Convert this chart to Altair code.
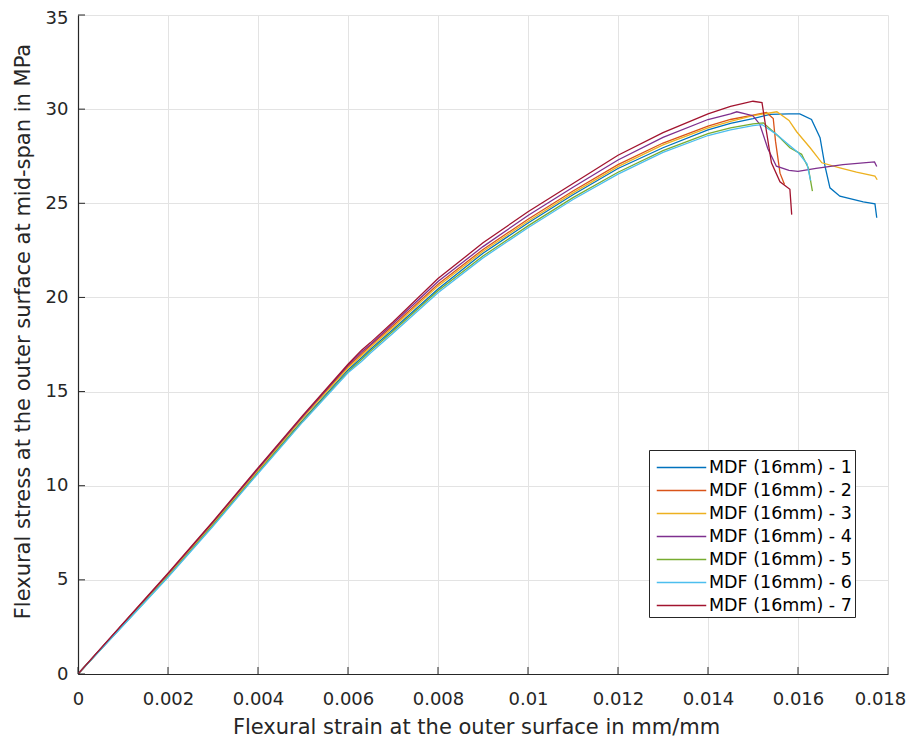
import altair as alt
import pandas as pd

series_names = [f"MDF (16mm) - {i}" for i in range(1, 8)]
series_colors = ["#0072BD", "#D95319", "#EDB120", "#7E2F8E", "#77AC30", "#4DBEEE", "#A2142F"]

x_ticks = [0, 0.002, 0.004, 0.006, 0.008, 0.01, 0.012, 0.014, 0.016, 0.018]
y_ticks = [0, 5, 10, 15, 20, 25, 30, 35]

# common strain points of the rising part
rise_strain = [0, 0.001, 0.002, 0.003, 0.004, 0.005, 0.006, 0.0063, 0.0065,
               0.007, 0.008, 0.009, 0.010, 0.011, 0.012, 0.013, 0.014]

# series 1
s1_rise = [0, 2.6, 5.2, 7.95, 10.75, 13.5, 16.15, 16.8, 17.25, 18.3, 20.45, 22.35, 23.95, 25.45, 26.85, 27.95, 28.9]
s1_tail_x = [0.0145, 0.0150, 0.01538, 0.0158, 0.01604, 0.0163, 0.01649, 0.0166, 0.01671, 0.01693, 0.01745, 0.01771, 0.01775]
s1_tail_y = [29.25, 29.5, 29.72, 29.75, 29.75, 29.45, 28.48, 26.97, 25.82, 25.38, 25.08, 24.97, 24.23]
# series 2
s2_rise = [0, 2.64, 5.28, 8.03, 10.85, 13.65, 16.33, 17.0, 17.45, 18.5, 20.7, 22.55, 24.15, 25.65, 27.05, 28.2, 29.1]
s2_tail_x = [0.0145, 0.0150, 0.0153, 0.01545, 0.0155, 0.0156, 0.0157]
s2_tail_y = [29.45, 29.68, 29.82, 29.5, 28.3, 26.6, 26.0]
# series 3
s3_rise = [0, 2.62, 5.25, 8.0, 10.8, 13.6, 16.25, 16.9, 17.35, 18.4, 20.6, 22.45, 24.05, 25.55, 26.95, 28.1, 29.0]
s3_tail_x = [0.0145, 0.0150, 0.01553, 0.0158, 0.01597, 0.01627, 0.01653, 0.01693, 0.0173, 0.01771, 0.01776]
s3_tail_y = [29.35, 29.65, 29.86, 29.4, 28.8, 27.95, 27.15, 26.88, 26.65, 26.44, 26.25]
# series 4
s4_rise = [0, 2.66, 5.32, 8.07, 10.9, 13.7, 16.4, 17.1, 17.5, 18.6, 20.85, 22.7, 24.35, 25.85, 27.3, 28.5, 29.45]
s4_tail_x = [0.0145, 0.01464, 0.0150, 0.01515, 0.01533, 0.01552, 0.0158, 0.0160, 0.0164, 0.0170, 0.0177, 0.01775]
s4_tail_y = [29.75, 29.86, 29.65, 29.2, 27.9, 26.97, 26.75, 26.7, 26.85, 27.05, 27.2, 26.95]
# series 5
s5_rise = [0, 2.58, 5.17, 7.9, 10.7, 13.45, 16.05, 16.7, 17.15, 18.2, 20.35, 22.2, 23.8, 25.3, 26.65, 27.8, 28.7]
s5_tail_x = [0.0145, 0.0150, 0.01523, 0.0156, 0.01582, 0.01608, 0.01623, 0.01632]
s5_tail_y = [29.0, 29.22, 29.27, 28.48, 27.95, 27.6, 26.88, 25.65]
# series 6
s6_rise = [0, 2.56, 5.14, 7.85, 10.65, 13.4, 16.0, 16.6, 17.05, 18.1, 20.25, 22.1, 23.7, 25.2, 26.55, 27.7, 28.6]
s6_tail_x = [0.0145, 0.0150, 0.0152, 0.0155, 0.0158, 0.0160, 0.0162, 0.01628]
s6_tail_y = [28.9, 29.12, 29.18, 28.7, 28.1, 27.7, 27.1, 26.2]
# series 7
s7_rise = [0, 2.68, 5.35, 8.1, 10.95, 13.75, 16.45, 17.2, 17.6, 18.7, 21.0, 22.9, 24.55, 26.05, 27.55, 28.75, 29.75]
s7_tail_x = [0.0145, 0.0150, 0.0152, 0.0153, 0.01541, 0.0156, 0.01582, 0.01586]
s7_tail_y = [30.15, 30.42, 30.35, 28.8, 27.15, 26.14, 25.74, 24.4]

rises = [s1_rise, s2_rise, s3_rise, s4_rise, s5_rise, s6_rise, s7_rise]
tails_x = [s1_tail_x, s2_tail_x, s3_tail_x, s4_tail_x, s5_tail_x, s6_tail_x, s7_tail_x]
tails_y = [s1_tail_y, s2_tail_y, s3_tail_y, s4_tail_y, s5_tail_y, s6_tail_y, s7_tail_y]

rows = []
for name, ry, tx, ty in zip(series_names, rises, tails_x, tails_y):
    xs = rise_strain + tx
    ys = ry + ty
    for i, (a, b) in enumerate(zip(xs, ys)):
        rows.append({"series": name, "strain": a, "stress": b, "idx": i})
df = pd.DataFrame(rows)

W, H = 810, 659
FONT = "DejaVu Sans"
TXT = "#262626"

xscale = alt.Scale(domain=[0, 0.018], nice=False, zero=False)
yscale = alt.Scale(domain=[0, 35], nice=False)

xaxis = alt.Axis(values=x_ticks, format="~g", grid=True, ticks=False,
                 labelFlush=False, labelPadding=16,
                 labelOffset={"condition": {"test": "datum.value > 0.017", "value": -8}, "value": 0},
                 title="Flexural strain at the outer surface in mm/mm",
                 titlePadding=8, titleX=398)
yaxis = alt.Axis(values=y_ticks, format="d", grid=True, ticks=False,
                 labelPadding=10,
                 labelOffset={"condition": {"test": "datum.value > 34", "value": 3}, "value": 0},
                 title="Flexural stress at the outer surface at mid-span in MPa",
                 titlePadding=12, titleY=316)

lines = alt.Chart(df).mark_line(strokeWidth=1.3, clip=True).encode(
    x=alt.X("strain:Q", scale=xscale, axis=xaxis),
    y=alt.Y("stress:Q", scale=yscale, axis=yaxis),
    color=alt.Color("series:N", scale=alt.Scale(domain=series_names, range=series_colors),
                    legend=alt.Legend(title=None, orient="none", legendX=571, legendY=435,
                                      padding=3, rowPadding=0,
                                      symbolType="M-1.8,0L1.8,0", symbolSize=756,
                                      symbolStrokeWidth=1.5, symbolOffset=15,
                                      labelOffset=13, labelFont=FONT, labelFontSize=17.5,
                                      labelColor="#000000", labelLimit=300,
                                      strokeColor=TXT, fillColor="white")),
    order="idx:Q",
)

xt = alt.Chart(pd.DataFrame({"strain": x_ticks})).mark_rule(color=TXT, strokeWidth=1).encode(
    x=alt.X("strain:Q", scale=xscale, axis=xaxis),
    y=alt.value(H), y2=alt.value(H - 7),
)
yt = alt.Chart(pd.DataFrame({"stress": y_ticks})).mark_rule(color=TXT, strokeWidth=1).encode(
    y=alt.Y("stress:Q", scale=yscale, axis=yaxis),
    x=alt.value(0), x2=alt.value(7),
)

chart = alt.layer(lines, xt, yt).properties(
    width=W, height=H,
    autosize=alt.AutoSizeParams(type="none"),
    padding={"left": 70, "top": 7, "right": 19, "bottom": 64},
).configure_view(stroke=None).configure_axis(
    labelFont=FONT, labelFontSize=18, labelColor=TXT,
    titleFont=FONT, titleFontSize=21, titleFontWeight="normal", titleColor=TXT,
    gridColor="#e3e3e3", gridWidth=1, domainColor=TXT, domainWidth=1.2,
).configure_legend(symbolStrokeWidth=1.5)

chart.save("out.html", embed_options={"renderer": "svg", "actions": False})
